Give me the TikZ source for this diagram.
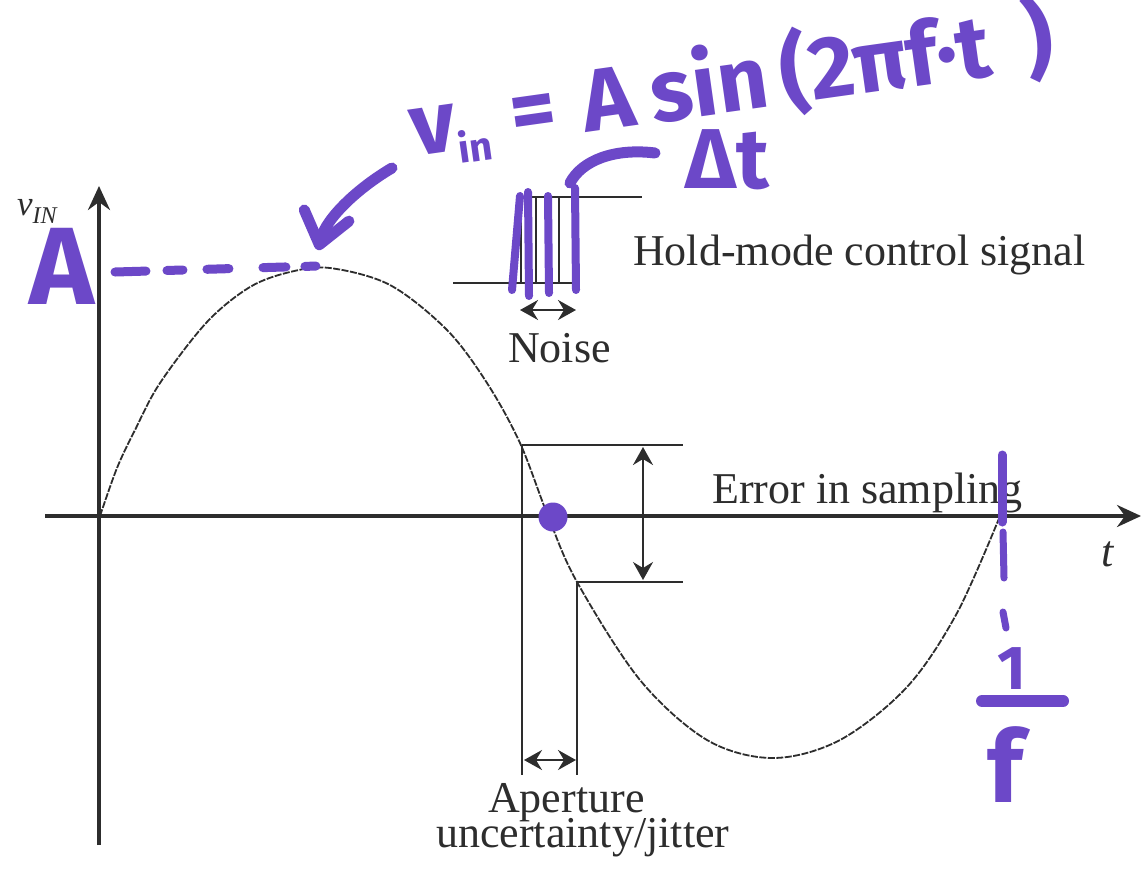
\documentclass[tikz,border=0pt]{standalone}
\usepackage{fontspec}
\setmainfont{Liberation Serif}
\newfontfamily\hw{Fira Sans}
\usetikzlibrary{arrows.meta}
\definecolor{ink}{RGB}{45,45,45}
\definecolor{marker}{RGB}{108,72,200}
\tikzset{
 axis/.style={ink, line width=3.5pt, -{Stealth[length=24pt,width=22pt,inset=8pt]}},
 wave/.style={ink, line width=1.8pt, dash pattern=on 7pt off 1.5pt},
 sig/.style={ink, line width=2.5pt},
 thinl/.style={ink, line width=1.8pt},
 dim/.style={ink, line width=2pt, {Stealth[length=18pt,width=20pt,inset=6pt]}-{Stealth[length=18pt,width=20pt,inset=6pt]}},
 lbl/.style={ink, inner sep=0pt, font=\fontsize{44}{44}\selectfont},
 hwtext/.style={marker, inner sep=0pt},
 mk/.style={marker, line width=8pt, line cap=round},
}
\begin{document}
\begin{tikzpicture}[x=1pt,y=-1pt]
\path[use as bounding box, fill=white] (0,0) rectangle (1142,868);

% axes
\coordinate (vb) at (99,845);
\coordinate (vt) at (99,186);
\coordinate (hl) at (45,516);
\coordinate (hr) at (1141,516);
\draw[axis] (vb) -- (vt);
\draw[axis] (hl) -- (hr);

% waveform
\draw[wave] plot[smooth, tension=0.55] coordinates {(100,516) (117,468) (135,430) (160,383) (207,322) (250,287) (290,272) (330,268) (390,285) (447,330) (487,383) (520,443) (548,516) (577,582) (640,680) (707,740) (773,758) (840,740) (907,687) (957,613) (1000,516)};

% hold-mode control signal
\coordinate (s1) at (453,283); \coordinate (s2) at (575,283);
\coordinate (s3) at (520,197); \coordinate (s4) at (642,197);
\draw[sig] (s1) -- (s2);
\draw[sig] (s3) -- (s4);
\foreach \xx in {521,536,547,559,575} \draw[thinl] (\xx,197) -- (\xx,283);
\coordinate (n1) at (520,310); \coordinate (n2) at (576,310);
\draw[dim, line width=2.2pt] (n1) -- (n2);

% error in sampling
\coordinate (e1) at (522,445); \coordinate (e2) at (683,445);
\coordinate (e3) at (577,582); \coordinate (e4) at (683,582);
\coordinate (e5) at (522,775); \coordinate (e6) at (577,775);
\draw[sig] (e1) -- (e2);
\draw[sig] (e3) -- (e4);
\draw[thinl] (e1) -- (e5);
\draw[thinl] (e3) -- (e6);
\coordinate (d1) at (643,447); \coordinate (d2) at (643,580);
\draw[dim] (d1) -- (d2);
\coordinate (a1) at (524,760); \coordinate (a2) at (576,760);
\draw[dim] (a1) -- (a2);

% printed labels
\node[lbl, anchor=base west] (hold) at (633,265) {Hold-mode control signal};
\node[lbl, anchor=base west] (noise) at (508,362) {Noise};
\node[lbl, anchor=base west] (err) at (712,503) {Error in sampling};
\node[lbl, anchor=base] (tl) at (1108,566) {\itshape t};
\node[lbl, anchor=base west] (ap1) at (488,812) {Aperture};
\node[lbl, anchor=base west] (ap2) at (436,847) {uncertainty/jitter};
\node[ink, inner sep=0pt, anchor=base west, font=\fontsize{35}{35}\selectfont\itshape] (vin) at (17,215) {v\raisebox{-0.25em}{\fontsize{24}{24}\selectfont IN}};

% handwritten annotations
\foreach \xa/\ya/\xb/\yb in {512/290/520/196, 529/296/528/192, 549/293/548/196, 576/290/575/188}
  \draw[mk] (\xa,\ya) -- (\xb,\yb);
\coordinate (c1) at (570,183); \coordinate (c2) at (655,153);
\draw[mk, line width=11pt] (c1) .. controls (582,160) and (615,148) .. (c2);

\node[hwtext, rotate=8, anchor=base west, font=\hw\bfseries\fontsize{88}{88}\selectfont] (formula) at (414,157) {v\raisebox{-.15em}{\fontsize{40}{40}\selectfont in}\hspace{0.25em}=\hspace{0.3em}A\hspace{0.2em}sin\hspace{0.15em}(2πf·t\hspace{0.4em})};
\node[hwtext, font=\hw\bfseries\fontsize{85}{85}\selectfont] (dt) at (727,160) {Δt};
\node[hwtext, font=\hw\bfseries\fontsize{110}{110}\selectfont] (amp) at (62,266) {A};

\coordinate (fa) at (392,168); \coordinate (pk) at (318,250);
\draw[mk, line width=11pt, -{Straight Barb[length=30pt,width=46pt,round]}] (fa) .. controls (358,188) and (326,218) .. (pk);

\coordinate (ds) at (115,272); \coordinate (de) at (318,266);
\draw[mk, line width=9pt, dash pattern=on 31pt off 21pt on 16pt off 24pt on 22pt off 34pt on 23pt off 19pt on 11pt off 200pt] (ds) -- (de);

\fill[marker] (553,517) circle [radius=14.5pt];

\coordinate (p1) at (1002,455); \coordinate (p2) at (1002,522);
\coordinate (p3) at (1003,532); \coordinate (p4) at (1004,578);
\coordinate (p5) at (1003,612); \coordinate (p6) at (1006,628);
\draw[mk, line width=9pt] (p1) -- (p2);
\draw[mk, line width=7pt] (p3) -- (p4);
\draw[mk, line width=7pt] (p5) -- (p6);
\node[hwtext, font=\hw\bfseries\fontsize{62}{62}\selectfont] (one) at (1012,669) {1};
\coordinate (b1) at (982,701); \coordinate (b2) at (1063,701);
\draw[mk, line width=12pt] (b1) -- (b2);
\node[hwtext, font=\hw\bfseries\fontsize{100}{100}\selectfont] (ef) at (1005,765) {f};
\end{tikzpicture}
\end{document}
